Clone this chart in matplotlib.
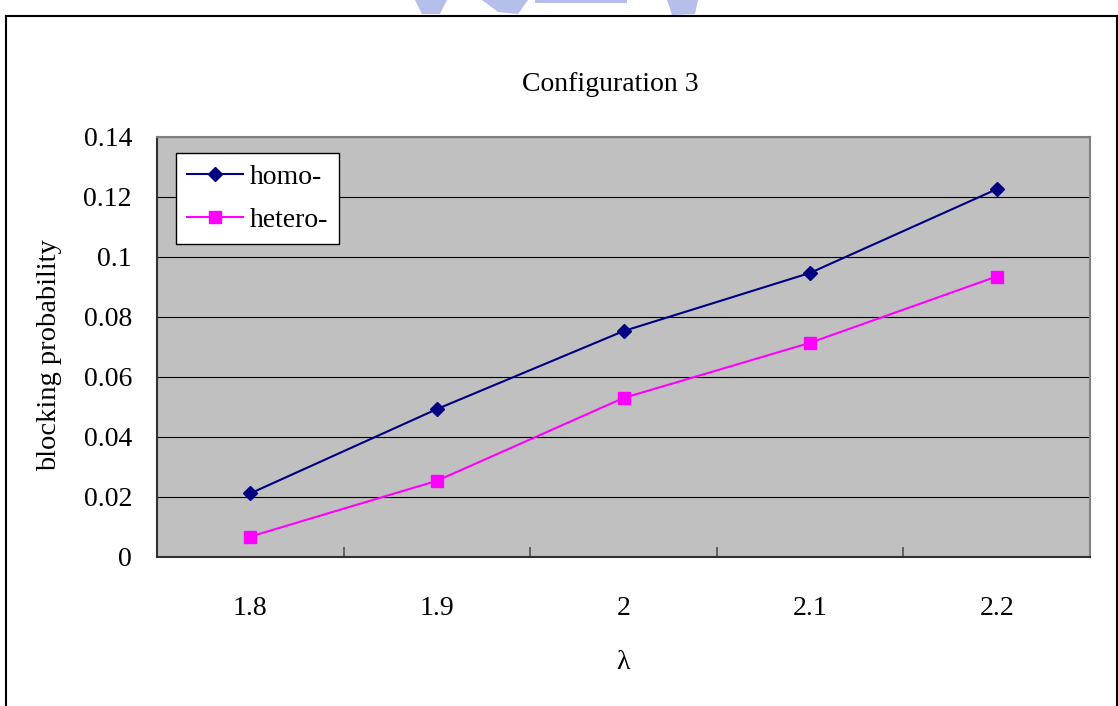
import numpy as np
import matplotlib
matplotlib.use('Agg')
import matplotlib.pyplot as plt
from matplotlib.lines import Line2D
from matplotlib.patches import Polygon

plt.rcParams['font.family'] = ['Liberation Serif', 'DejaVu Serif']
plt.rcParams['font.size'] = 20

lam = ['1.8', '1.9', '2', '2.1', '2.2']
homo = [0.0212, 0.0493, 0.0753, 0.0947, 0.1226]
hetero = [0.0068, 0.0254, 0.0530, 0.0714, 0.0935]
yticks = [0, 0.02, 0.04, 0.06, 0.08, 0.1, 0.12, 0.14]
ytick_labels = ['0', '0.02', '0.04', '0.06', '0.08', '0.1', '0.12', '0.14']

W, H = 1118, 706
fig = plt.figure(figsize=(W/100., H/100.), dpi=100)
fig.patch.set_facecolor('white')

# chart frame (bottom edge runs off the page)
kw = dict(color='black', lw=1.5, transform=fig.transFigure)
fig.add_artist(Line2D([6./W, 6./W], [-0.01, 1-16./H], **kw))
fig.add_artist(Line2D([6./W, 1117./W], [1-16./H, 1-16./H], **kw))
fig.add_artist(Line2D([1117./W, 1117./W], [-0.01, 1-16./H], **kw))

# faint blue logo bleeding through from the page above
blue = '#b6bfea'
for xs, ys in [([415, 447, 440, 422], [0, 0, 14, 14]),
               ([482, 528, 518, 498], [0, 0, 14, 12]),
               ([535, 627, 627, 535], [0, 0, 3, 3]),
               ([667, 698, 695, 672], [0, 0, 14, 15])]:
    pts = [(x/float(W), 1-y/float(H)) for x, y in zip(xs, ys)]
    fig.add_artist(Polygon(pts, closed=True, facecolor=blue, edgecolor='none',
                           transform=fig.transFigure))

ax = fig.add_axes([157./W, 1-557./H, 933./W, 420./H])
ax.set_facecolor('#c0c0c0')

x = np.arange(len(lam))
ax.plot(x, homo, color='#000080', lw=1.5, marker='D', ms=7,
        mec='#000080', mfc='#000080', label='homo-', zorder=3)
ax.plot(x, hetero, color='#ff00ff', lw=1.5, marker='s', ms=8.6,
        mec='#ff00ff', mfc='#ff00ff', label='hetero-', zorder=3)

ax.set_xlim(-0.5, len(lam)-0.5)
ax.set_ylim(0, 0.14)

ax.set_yticks(yticks)
ax.set_yticklabels(ytick_labels)
ax.tick_params(axis='y', length=0, pad=18)
ax.yaxis.grid(True, color='black', lw=0.8)
ax.set_axisbelow(True)

# category boundaries get the tick marks, labels sit between them
ax.set_xticks(x[:-1] + 0.5)
ax.set_xticklabels([])
ax.set_xticks(x, minor=True)
ax.set_xticklabels(lam, minor=True)
ax.tick_params(axis='x', which='major', direction='in', length=7, width=1.2,
               color='#505050')
ax.tick_params(axis='x', which='minor', length=0, pad=28)

for s in ['top', 'right']:
    ax.spines[s].set_color('#808080')
    ax.spines[s].set_linewidth(1.5)
for s in ['left', 'bottom']:
    ax.spines[s].set_color('#303030')
    ax.spines[s].set_linewidth(1.5)

ax.set_ylabel('blocking probability', va='center', fontsize=20.5)
ax.yaxis.set_label_coords(-0.115, 0.481)
ax.set_xlabel(u'\u03bb', va='center')
ax.xaxis.set_label_coords(0.4995, -0.252)

ax.text(0.4855, 1.124, 'Configuration 3', transform=ax.transAxes,
        ha='center', va='center')

leg = ax.legend(loc='upper left', bbox_to_anchor=(0.0204, 0.962),
                borderaxespad=0, fancybox=False, framealpha=1,
                edgecolor='black', handlelength=2.0, handletextpad=0.25,
                labelspacing=0.65, borderpad=0.4)
leg.get_frame().set_linewidth(1.0)

fig.savefig('out.png', dpi=100)
